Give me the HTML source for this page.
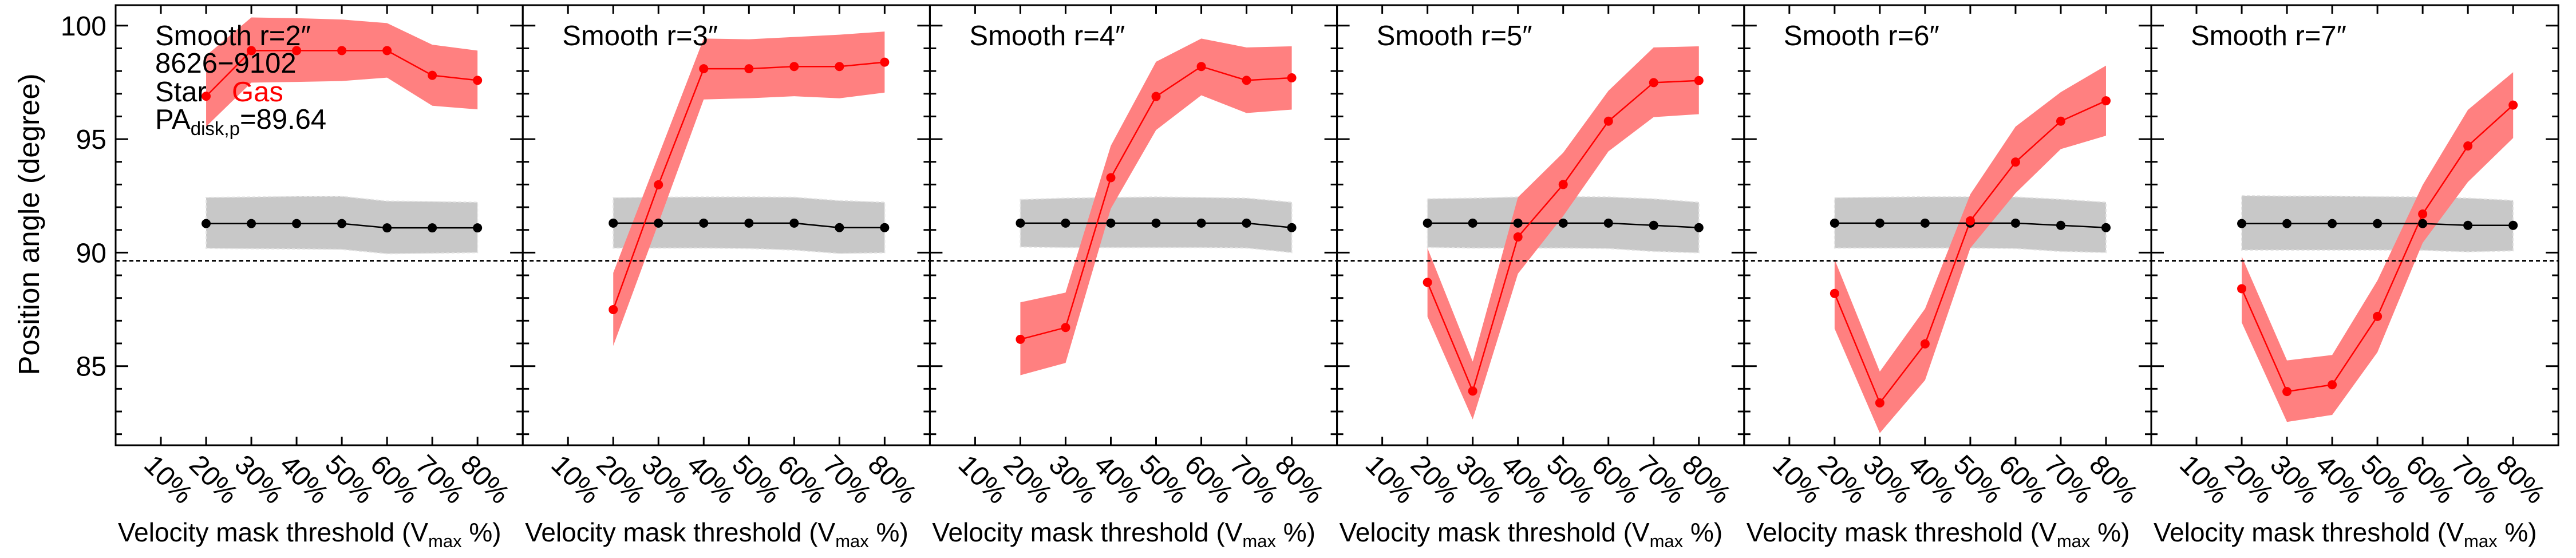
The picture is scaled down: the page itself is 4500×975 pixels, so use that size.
<!DOCTYPE html>
<html><head><meta charset="utf-8"><style>
html,body{margin:0;padding:0;background:#fff;}
svg{display:block;font-family:"Liberation Sans",Arial,sans-serif;}
</style></head><body>
<svg id="chart" width="4500" height="975" viewBox="0 0 4500 975" xmlns="http://www.w3.org/2000/svg"></svg>
<script>
const thresholds = [20,30,40,50,60,70,80];
const xTickLabels = ["10%","20%","30%","40%","50%","60%","70%","80%"];
const yTickValues = [85,90,95,100];
const panelTitles = ["Smooth r=2\u2033","Smooth r=3\u2033","Smooth r=4\u2033","Smooth r=5\u2033","Smooth r=6\u2033","Smooth r=7\u2033"];
const diskPA = 89.64;
// gas values per panel
const gasR2 = [96.89,98.90,98.90,98.90,98.90,97.81,97.59];
const gasR3 = [87.49,92.99,98.10,98.10,98.20,98.20,98.39];
const gasR4 = [86.18,86.70,93.30,96.88,98.20,97.59,97.70];
const gasR5 = [88.69,83.90,90.69,93.00,95.79,97.49,97.58];
const gasR6 = [88.20,83.38,85.98,91.40,93.99,95.79,96.69];
const gasR7 = [88.41,83.88,84.18,87.19,91.70,94.70,96.50];
const gasUpR2 = [98.68,100.36,100.33,100.27,100.11,99.16,98.90];
const gasUpR3 = [89.11,94.27,99.43,99.40,99.50,99.60,99.74];
const gasUpR4 = [87.81,88.24,94.71,98.41,99.43,99.04,99.09];
const gasUpR5 = [90.20,85.20,92.44,94.40,97.13,99.04,99.09];
const gasUpR6 = [89.70,84.76,87.53,92.57,95.55,97.07,98.24];
const gasUpR7 = [89.83,85.25,85.49,88.77,92.98,96.29,97.95];
const gasLoR2 = [95.55,97.49,97.52,97.56,97.71,96.47,96.31];
const gasLoR3 = [85.89,91.30,96.75,96.80,96.89,96.80,97.05];
const gasLoR4 = [84.60,85.14,91.94,95.40,96.93,96.15,96.30];
const gasLoR5 = [87.18,82.65,89.07,91.61,94.46,95.97,96.10];
const gasLoR6 = [86.65,82.05,84.38,90.20,92.62,94.56,95.15];
const gasLoR7 = [86.92,82.54,82.85,85.61,90.43,93.11,95.05];
// star values per panel
const starR2 = [91.28,91.28,91.28,91.28,91.09,91.09,91.09];
const starR3 = [91.30,91.30,91.30,91.30,91.30,91.10,91.10];
const starR4 = [91.30,91.30,91.30,91.30,91.30,91.30,91.10];
const starR5 = [91.30,91.30,91.30,91.30,91.30,91.20,91.10];
const starR6 = [91.30,91.30,91.30,91.30,91.30,91.20,91.10];
const starR7 = [91.28,91.28,91.28,91.28,91.28,91.20,91.20];
const starUpR2 = [92.43,92.45,92.48,92.48,92.27,92.25,92.22];
const starUpR3 = [92.42,92.44,92.45,92.45,92.44,92.29,92.22];
const starUpR4 = [92.34,92.40,92.43,92.45,92.43,92.40,92.22];
const starUpR5 = [92.37,92.40,92.45,92.47,92.45,92.37,92.22];
const starUpR6 = [92.42,92.44,92.46,92.46,92.45,92.35,92.22];
const starUpR7 = [92.51,92.49,92.49,92.47,92.45,92.40,92.30];
const starLoR2 = [90.19,90.17,90.16,90.14,89.95,89.97,90.00];
const starLoR3 = [90.20,90.20,90.20,90.18,90.11,89.96,89.99];
const starLoR4 = [90.25,90.22,90.22,90.22,90.22,90.20,90.00];
const starLoR5 = [90.23,90.20,90.20,90.20,90.18,90.05,89.99];
const starLoR6 = [90.20,90.20,90.20,90.20,90.18,90.05,90.00];
const starLoR7 = [90.11,90.11,90.11,90.11,90.10,90.03,90.08];

const gas=[gasR2,gasR3,gasR4,gasR5,gasR6,gasR7];
const gasUp=[gasUpR2,gasUpR3,gasUpR4,gasUpR5,gasUpR6,gasUpR7];
const gasLo=[gasLoR2,gasLoR3,gasLoR4,gasLoR5,gasLoR6,gasLoR7];
const star=[starR2,starR3,starR4,starR5,starR6,starR7];
const starUp=[starUpR2,starUpR3,starUpR4,starUpR5,starUpR6,starUpR7];
const starLo=[starLoR2,starLoR3,starLoR4,starLoR5,starLoR6,starLoR7];

const NS="http://www.w3.org/2000/svg";
const svg=document.getElementById('chart');
const L0=202, PW=711.2, TOP=9, BOT=778;
function yS(v){return 44.8+(100-v)*39.66;}
function xS(i,p){return L0+i*PW+p/10*PW/9;}
function mk(tag,attrs,parent){const e=document.createElementNS(NS,tag);for(const k in attrs)e.setAttribute(k,attrs[k]);(parent||svg).appendChild(e);return e;}

for(let i=0;i<6;i++){
  const g=mk('g',{});
  
  
  const left=L0+i*PW, right=left+PW;
  const bandPts=(up,lo)=>thresholds.map((t,k)=>xS(i,t)+','+yS(up[k])).concat(thresholds.slice().reverse().map((t,k)=>xS(i,t)+','+yS(lo[thresholds.length-1-k]))).join(' ');
  const sb=mk('polygon',{points:bandPts(starUp[i],starLo[i]),fill:'#c8c8c8',stroke:'#e4e4e4','stroke-width':2,'stroke-dasharray':'5,4'},g);
  
  
  const gb=mk('polygon',{points:bandPts(gasUp[i],gasLo[i]),fill:'#ff8080'},g);
  
  
  const sl=mk('polyline',{points:thresholds.map((t,k)=>xS(i,t)+','+yS(star[i][k])).join(' '),fill:'none',stroke:'#000','stroke-width':2.5},g);
  
  
  const gl=mk('polyline',{points:thresholds.map((t,k)=>xS(i,t)+','+yS(gas[i][k])).join(' '),fill:'none',stroke:'#ff0000','stroke-width':2.5},g);
  
  
  thresholds.forEach((t,k)=>{
    const c=mk('circle',{cx:xS(i,t),cy:yS(star[i][k]),r:8,fill:'#000'},g);
    
    
    const d=mk('circle',{cx:xS(i,t),cy:yS(gas[i][k]),r:8,fill:'#ff0000'},g);
    
    
  });
  const dl=mk('line',{x1:left,x2:right,y1:yS(diskPA),y2:yS(diskPA),stroke:'#000','stroke-width':3,'stroke-dasharray':'7,5'},g);
  
  
  const fr=mk('rect',{x:left,y:TOP,width:PW,height:BOT-TOP,fill:'none',stroke:'#000','stroke-width':3},g);
  
  
  for(let p=10;p<=80;p+=10){
    const x=xS(i,p);
    mk('line',{x1:x,x2:x,y1:BOT,y2:BOT-15,stroke:'#000','stroke-width':3},g);
    mk('line',{x1:x,x2:x,y1:TOP,y2:TOP+15,stroke:'#000','stroke-width':3},g);
  }
  for(let v=82;v<=100;v++){
    const y=yS(v), len=(v%5===0)?22:11;
    mk('line',{x1:left,x2:left+len,y1:y,y2:y,stroke:'#000','stroke-width':3},g);
    mk('line',{x1:right,x2:right-len,y1:y,y2:y,stroke:'#000','stroke-width':3},g);
  }
  xTickLabels.forEach((lab,k)=>{
    const x=xS(i,(k+1)*10)-32, y=815;
    const t=mk('text',{x:x,y:y,'font-size':48,transform:'rotate(45 '+x+' '+y+')'},g);
    t.textContent=lab;
    
    
  });
  const xt=mk('text',{x:left+4,y:946,'font-size':46},g);
  
  
  xt.appendChild(document.createTextNode('Velocity mask threshold (V'));
  const sub=mk('tspan',{'font-size':31,dy:10},xt); sub.textContent='max';
  const rest=mk('tspan',{'font-size':46,dy:-10},xt); rest.textContent=' %)';
  const pt=mk('text',{x:left+69,y:79,'font-size':49},g);
  pt.textContent=panelTitles[i];
  
  
}
yTickValues.forEach(v=>{
  const t=mk('text',{x:186,y:yS(v)+17,'font-size':48,'text-anchor':'end'});
  t.textContent=v;
  
  
});
const yl=mk('text',{x:68,y:392,'font-size':51,'text-anchor':'middle',transform:'rotate(-90 68 392)'});
yl.textContent='Position angle (degree)';


const a1=mk('text',{x:271,y:127,'font-size':49}); a1.textContent='8626\u22129102';


const a2=mk('text',{x:271,y:177,'font-size':49}); a2.textContent='Star';


const a3=mk('text',{x:405,y:177,'font-size':49,fill:'#ff0000'}); a3.textContent='Gas';


const a4=mk('text',{x:271,y:225,'font-size':49});


a4.appendChild(document.createTextNode('PA'));
const s4=mk('tspan',{'font-size':33,dy:11},a4); s4.textContent='disk,p';
const r4=mk('tspan',{'font-size':49,dy:-11},a4); r4.textContent='=89.64';
</script>
</body></html>
